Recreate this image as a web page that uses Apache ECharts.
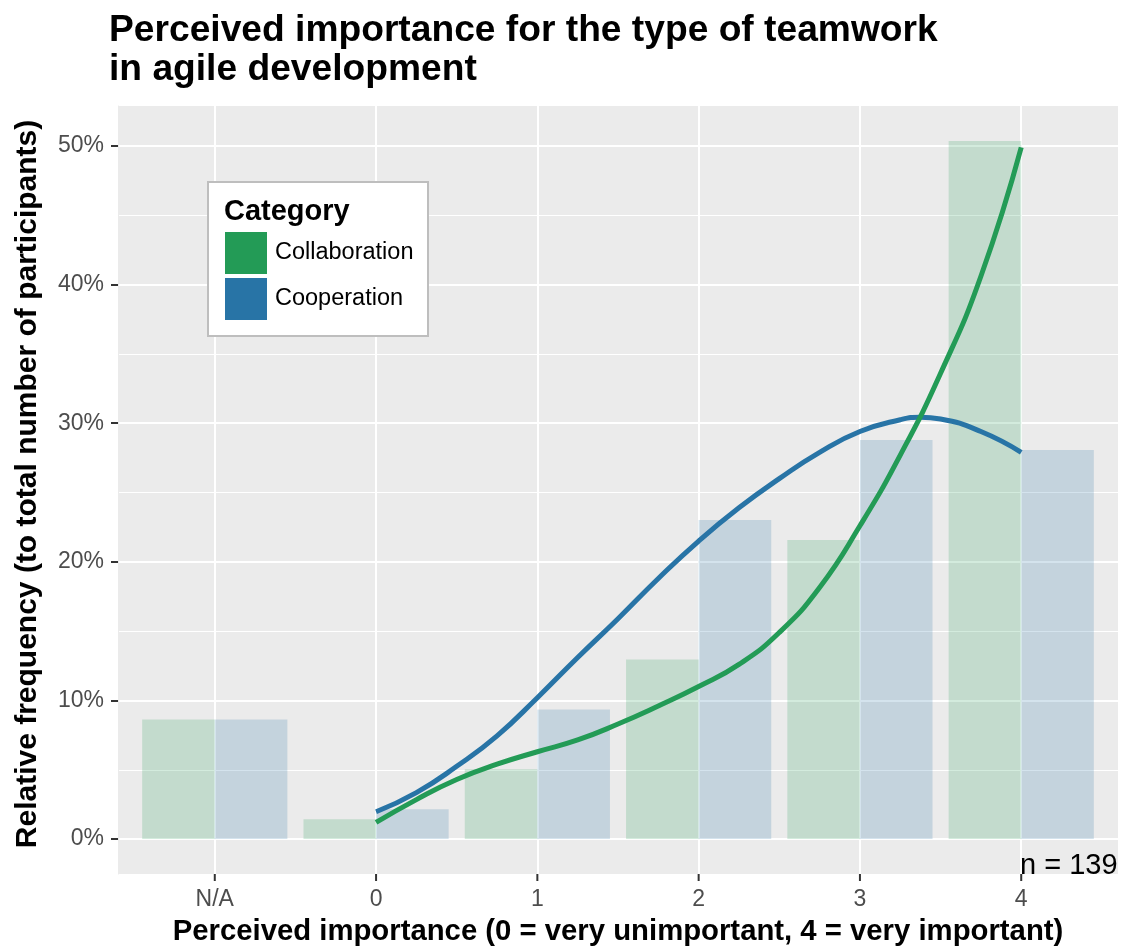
<!DOCTYPE html>
<html><head><meta charset="utf-8">
<script src="https://cdn.jsdelivr.net/npm/echarts@6/dist/echarts.min.js"></script>
<style>html,body{margin:0;padding:0;background:#fff}#c{width:1122px;height:949px}</style>
</head><body><div id="c"></div>
<script>
// ---- data ----
const categories = ['N/A', '0', '1', '2', '3', '4'];
const categoryPositions = [-1, 0, 1, 2, 3, 4];
const collaborationPct = [8.63, 1.44, 5.04, 12.95, 21.58, 50.36];
const cooperationPct = [8.63, 2.16, 9.35, 23.02, 28.78, 28.06];
const collaborationSmoothX = [0, 0.25, 0.5, 0.75, 1, 1.25, 1.5, 1.75, 2, 2.25, 2.5, 2.75, 3, 3.25, 3.5, 3.75, 4];
const collaborationSmooth = [1.2, 2.85, 4.3, 5.4, 6.3, 7.15, 8.3, 9.6, 11.0, 12.6, 14.9, 18.15, 22.6, 27.7, 33.6, 40.6, 49.9];
const cooperationSmoothX = [0, 0.25, 0.5, 0.75, 1, 1.25, 1.5, 1.75, 2, 2.25, 2.5, 2.75, 3, 3.25, 3.375, 3.5, 3.75, 4];
const cooperationSmooth = [1.97, 3.35, 5.25, 7.45, 10.2, 13.1, 15.9, 18.8, 21.5, 23.9, 26.0, 27.9, 29.4, 30.25, 30.43, 30.3, 29.4, 27.9];
const yTicks = [0, 10, 20, 30, 40, 50];
const yMinorTicks = [5, 15, 25, 35, 45];
const sampleSize = 139;
const seriesNames = ['Collaboration', 'Cooperation'];
const legendTitle = 'Category';
const chartTitle = 'Perceived importance for the type of teamwork\nin agile development';
const xTitle = 'Perceived importance (0 = very unimportant, 4 = very important)';
const yTitle = 'Relative frequency (to total number of participants)';

// ---- styles ----
const GREEN = '#239B56', BLUE = '#2874A6';
const FONT = '"Liberation Sans", Arial, sans-serif';
const catLabel = {};
categoryPositions.forEach((p, i) => catLabel[p] = categories[i]);

function barRenderer(side, fill) {
  return function (params, api) {
    const x = api.value(0), v = api.value(1);
    const x0 = side < 0 ? x - 0.45 : x;
    const x1 = side < 0 ? x : x + 0.45;
    const p0 = api.coord([x0, v]);
    const p1 = api.coord([x1, 0]);
    return {
      type: 'rect',
      shape: { x: p0[0], y: p0[1], width: p1[0] - p0[0], height: p1[1] - p0[1] },
      style: { fill: fill }
    };
  };
}

const chart = echarts.init(document.getElementById('c'), null, { renderer: 'canvas' });
const yMin = -2.518, yMax = 52.88;
const staticGraphics = [
  { id: 'legendBox', type: 'rect', z: 3, shape: { x: 208, y: 182, width: 220, height: 154 }, style: { fill: '#fff', stroke: '#BEBEBE', lineWidth: 2 } },
  { id: 'legendTitle', type: 'text', z: 11, x: 224, y: 212, style: { text: legendTitle, fontFamily: FONT, fontSize: 29, fontWeight: 'bold', fill: '#000', verticalAlign: 'middle' } },
  { id: 'yTitle', type: 'text', z: 11, x: 28, y: 484, rotation: Math.PI / 2, style: { text: yTitle, fontFamily: FONT, fontSize: 30, fontWeight: 'bold', fill: '#000', align: 'center', verticalAlign: 'middle' } },
  { id: 'xTitle', type: 'text', z: 11, x: 618, y: 932, style: { text: xTitle, fontFamily: FONT, fontSize: 29.3, fontWeight: 'bold', fill: '#000', align: 'center', verticalAlign: 'middle' } },
  { id: 'nNote', type: 'text', z: 11, x: 1020, y: 866, style: { text: 'n = ' + sampleSize, fontFamily: FONT, fontSize: 29, fill: '#000', verticalAlign: 'middle' } }
];
chart.setOption({
  animation: false,
  backgroundColor: '#fff',
  title: {
    text: chartTitle, left: 109, top: 11, padding: 0,
    textStyle: { fontFamily: FONT, fontSize: 37.2, fontWeight: 'bold', color: '#000', lineHeight: 39 }
  },
  grid: { left: 118, right: 4, top: 106, bottom: 75, show: true, backgroundColor: '#EBEBEB', borderWidth: 0 },
  xAxis: {
    type: 'value', min: -1.6, max: 4.6, position: 'bottom',
    axisLine: { show: false, onZero: false },
    axisTick: { show: false, customValues: categoryPositions },
    axisLabel: { customValues: categoryPositions, formatter: v => catLabel[v], color: '#4D4D4D', fontSize: 23, fontFamily: FONT, margin: 14 },
    splitLine: { show: true, lineStyle: { color: '#fff', width: 2 } }
  },
  yAxis: [{
    type: 'value', min: yMin, max: yMax,
    axisLine: { show: true, onZero: false, lineStyle: { color: '#EBEBEB', width: 1 } },
    axisTick: { show: true, length: 7, lineStyle: { color: '#333', width: 2 }, customValues: yTicks },
    axisLabel: { customValues: yTicks, formatter: v => v + '%', color: '#4D4D4D', fontSize: 23, fontFamily: FONT, margin: 14 },
    splitLine: { show: true, lineStyle: { color: '#fff', width: 2 } }
  }, {
    type: 'value', min: yMin, max: yMax, position: 'left',
    axisLine: { show: false, onZero: false },
    axisTick: { show: false, customValues: yMinorTicks },
    axisLabel: { show: false, customValues: yMinorTicks },
    splitLine: { show: true, lineStyle: { color: '#fff', width: 1 } }
  }],
  legend: {
    left: 225, top: 232, orient: 'vertical', itemWidth: 42, itemHeight: 42, itemGap: 4, padding: 0,
    selectedMode: false, z: 10,
    textStyle: { fontFamily: FONT, fontSize: 23.5, color: '#000', padding: [10, 0, 0, 3] },
    data: [
      { name: seriesNames[0], icon: 'rect', itemStyle: { color: GREEN, opacity: 1, borderWidth: 0 } },
      { name: seriesNames[1], icon: 'rect', itemStyle: { color: BLUE, opacity: 1, borderWidth: 0 } }
    ]
  },
  graphic: staticGraphics,
  series: [
    {
      name: seriesNames[0], type: 'custom', renderItem: barRenderer(-1, 'rgba(35,155,86,0.2)'),
      data: categoryPositions.map((p, i) => [p, collaborationPct[i]]), z: 2
    },
    {
      name: seriesNames[1], type: 'custom', renderItem: barRenderer(1, 'rgba(40,116,166,0.2)'),
      data: categoryPositions.map((p, i) => [p, cooperationPct[i]]), z: 2
    },
    {
      name: seriesNames[1], type: 'line', smooth: 0.5, symbol: 'none', z: 3,
      lineStyle: { color: BLUE, width: 5 }, itemStyle: { color: BLUE },
      data: cooperationSmoothX.map((x, i) => [x, cooperationSmooth[i]])
    },
    {
      name: seriesNames[0], type: 'line', smooth: 0.5, symbol: 'none', z: 4,
      lineStyle: { color: GREEN, width: 5 }, itemStyle: { color: GREEN },
      data: collaborationSmoothX.map((x, i) => [x, collaborationSmooth[i]])
    }
  ]
});

// x-axis tick marks: positions come from the axis scale via convertToPixel
const tickBottomY = chart.convertToPixel({ yAxisIndex: 0 }, yMin);
const tickGraphics = categoryPositions.map((p, i) => {
  const px = chart.convertToPixel({ xAxisIndex: 0 }, p);
  return { id: 'xtick' + i, type: 'line', z: 100, shape: { x1: px, y1: tickBottomY, x2: px, y2: tickBottomY + 7 }, style: { stroke: '#333', lineWidth: 2 } };
});
chart.setOption({ graphic: staticGraphics.concat(tickGraphics) });
</script></body></html>
